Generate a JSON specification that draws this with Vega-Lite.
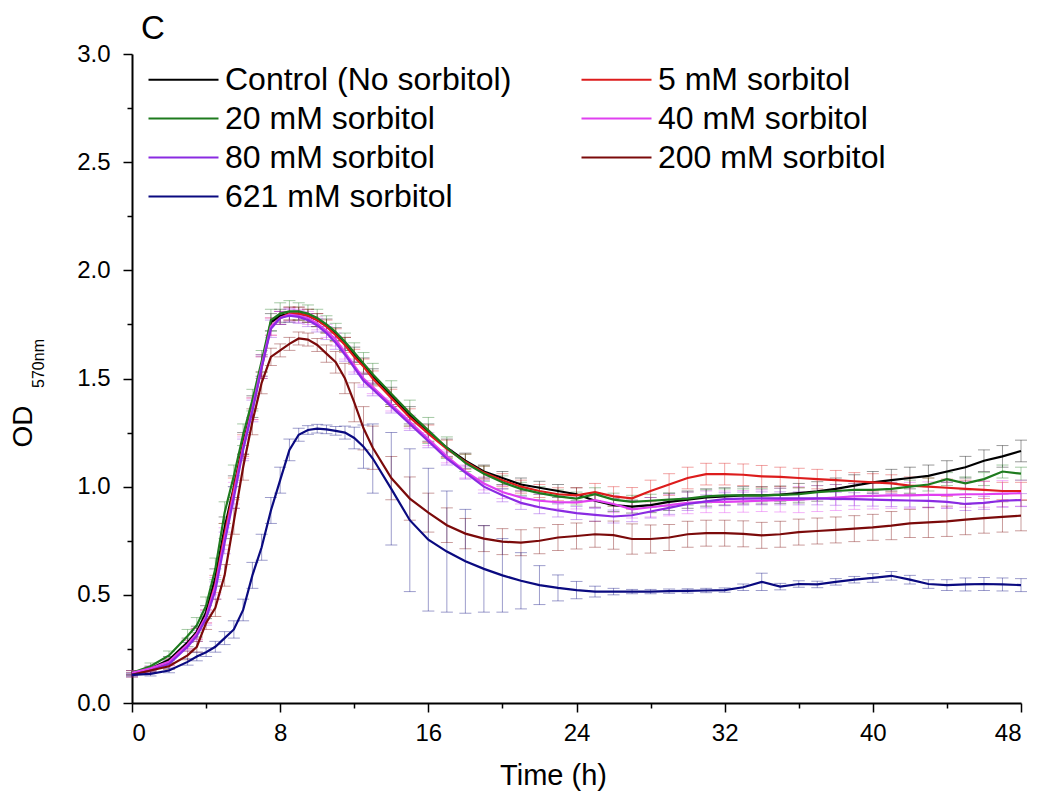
{
"$schema": "https://vega.github.io/schema/vega-lite/v6.json",
"width": 889, "height": 649,
"autosize": "none",
"padding": {"left": 132, "top": 54, "right": 21, "bottom": 90},
"background": "white",
"config": {"view": {"stroke": null}, "font": "Liberation Sans",
 "axis": {"grid": false, "domainColor": "#000", "domainWidth": 2, "tickColor": "#000", "tickWidth": 1.5, "labelColor": "#000", "titleColor": "#000", "labelFont": "Liberation Sans", "titleFont": "Liberation Sans", "labelFontSize": 24, "titleFontSize": 29, "titleFontWeight": "normal"}},
"title": {"text": "C", "anchor": "start", "frame": "group", "fontSize": 33, "fontWeight": "normal", "font": "Liberation Sans", "color": "#000", "dx": 9, "offset": -4},
"data": {"values": [
{"s":"C","t":0,"y":0.14,"e":0.01},{"s":"C","t":1,"y":0.16,"e":0.01},{"s":"C","t":2,"y":0.2,"e":0.015},{"s":"C","t":3,"y":0.28,"e":0.02},{"s":"C","t":3.5,"y":0.33,"e":0.025},{"s":"C","t":4,"y":0.42,"e":0.03},{"s":"C","t":4.5,"y":0.58,"e":0.04},{"s":"C","t":5,"y":0.81,"e":0.05},{"s":"C","t":5.5,"y":1.0,"e":0.05},{"s":"C","t":6,"y":1.2,"e":0.05},{"s":"C","t":6.5,"y":1.37,"e":0.05},{"s":"C","t":7,"y":1.56,"e":0.05},{"s":"C","t":7.5,"y":1.76,"e":0.04},{"s":"C","t":8,"y":1.79,"e":0.03},{"s":"C","t":8.5,"y":1.8,"e":0.03},{"s":"C","t":9,"y":1.8,"e":0.03},{"s":"C","t":9.5,"y":1.79,"e":0.03},{"s":"C","t":10,"y":1.77,"e":0.03},{"s":"C","t":10.5,"y":1.745,"e":0.03},{"s":"C","t":11,"y":1.705,"e":0.03},{"s":"C","t":11.5,"y":1.66,"e":0.03},{"s":"C","t":12,"y":1.61,"e":0.035},{"s":"C","t":12.5,"y":1.56,"e":0.035},{"s":"C","t":13,"y":1.51,"e":0.035},{"s":"C","t":14,"y":1.42,"e":0.04},{"s":"C","t":15,"y":1.33,"e":0.04},{"s":"C","t":16,"y":1.25,"e":0.04},{"s":"C","t":17,"y":1.18,"e":0.04},{"s":"C","t":18,"y":1.12,"e":0.035},{"s":"C","t":19,"y":1.07,"e":0.03},{"s":"C","t":20,"y":1.04,"e":0.03},{"s":"C","t":21,"y":1.01,"e":0.03},{"s":"C","t":22,"y":0.995,"e":0.03},{"s":"C","t":23,"y":0.98,"e":0.03},{"s":"C","t":24,"y":0.965,"e":0.03},{"s":"C","t":25,"y":0.935,"e":0.03},{"s":"C","t":26,"y":0.915,"e":0.03},{"s":"C","t":27,"y":0.908,"e":0.03},{"s":"C","t":28,"y":0.915,"e":0.035},{"s":"C","t":29,"y":0.93,"e":0.04},{"s":"C","t":30,"y":0.94,"e":0.04},{"s":"C","t":31,"y":0.95,"e":0.04},{"s":"C","t":32,"y":0.955,"e":0.04},{"s":"C","t":33,"y":0.96,"e":0.04},{"s":"C","t":34,"y":0.96,"e":0.04},{"s":"C","t":35,"y":0.963,"e":0.04},{"s":"C","t":36,"y":0.97,"e":0.045},{"s":"C","t":37,"y":0.978,"e":0.045},{"s":"C","t":38,"y":0.99,"e":0.05},{"s":"C","t":39,"y":1.005,"e":0.05},{"s":"C","t":40,"y":1.02,"e":0.05},{"s":"C","t":41,"y":1.03,"e":0.05},{"s":"C","t":42,"y":1.04,"e":0.05},{"s":"C","t":43,"y":1.05,"e":0.05},{"s":"C","t":44,"y":1.07,"e":0.05},{"s":"C","t":45,"y":1.09,"e":0.05},{"s":"C","t":46,"y":1.12,"e":0.05},{"s":"C","t":47,"y":1.14,"e":0.05},{"s":"C","t":48,"y":1.165,"e":0.05},
{"s":"5","t":0,"y":0.14,"e":0.01},{"s":"5","t":1,"y":0.155,"e":0.01},{"s":"5","t":2,"y":0.19,"e":0.015},{"s":"5","t":3,"y":0.27,"e":0.02},{"s":"5","t":3.5,"y":0.32,"e":0.025},{"s":"5","t":4,"y":0.4,"e":0.03},{"s":"5","t":4.5,"y":0.55,"e":0.04},{"s":"5","t":5,"y":0.78,"e":0.05},{"s":"5","t":5.5,"y":0.99,"e":0.05},{"s":"5","t":6,"y":1.19,"e":0.05},{"s":"5","t":6.5,"y":1.36,"e":0.05},{"s":"5","t":7,"y":1.55,"e":0.05},{"s":"5","t":7.5,"y":1.74,"e":0.04},{"s":"5","t":8,"y":1.78,"e":0.03},{"s":"5","t":8.5,"y":1.8,"e":0.03},{"s":"5","t":9,"y":1.8,"e":0.03},{"s":"5","t":9.5,"y":1.79,"e":0.03},{"s":"5","t":10,"y":1.77,"e":0.03},{"s":"5","t":10.5,"y":1.74,"e":0.03},{"s":"5","t":11,"y":1.7,"e":0.03},{"s":"5","t":11.5,"y":1.655,"e":0.035},{"s":"5","t":12,"y":1.6,"e":0.035},{"s":"5","t":12.5,"y":1.555,"e":0.035},{"s":"5","t":13,"y":1.5,"e":0.035},{"s":"5","t":14,"y":1.41,"e":0.04},{"s":"5","t":15,"y":1.32,"e":0.04},{"s":"5","t":16,"y":1.245,"e":0.04},{"s":"5","t":17,"y":1.175,"e":0.04},{"s":"5","t":18,"y":1.115,"e":0.035},{"s":"5","t":19,"y":1.065,"e":0.03},{"s":"5","t":20,"y":1.03,"e":0.03},{"s":"5","t":21,"y":1.0,"e":0.03},{"s":"5","t":22,"y":0.98,"e":0.03},{"s":"5","t":23,"y":0.965,"e":0.03},{"s":"5","t":24,"y":0.96,"e":0.035},{"s":"5","t":25,"y":0.975,"e":0.04},{"s":"5","t":26,"y":0.955,"e":0.045},{"s":"5","t":27,"y":0.946,"e":0.05},{"s":"5","t":28,"y":0.98,"e":0.05},{"s":"5","t":29,"y":1.01,"e":0.05},{"s":"5","t":30,"y":1.04,"e":0.05},{"s":"5","t":31,"y":1.058,"e":0.05},{"s":"5","t":32,"y":1.058,"e":0.05},{"s":"5","t":33,"y":1.055,"e":0.05},{"s":"5","t":34,"y":1.048,"e":0.05},{"s":"5","t":35,"y":1.045,"e":0.045},{"s":"5","t":36,"y":1.04,"e":0.045},{"s":"5","t":37,"y":1.035,"e":0.045},{"s":"5","t":38,"y":1.03,"e":0.045},{"s":"5","t":39,"y":1.025,"e":0.04},{"s":"5","t":40,"y":1.02,"e":0.04},{"s":"5","t":41,"y":1.015,"e":0.04},{"s":"5","t":42,"y":1.005,"e":0.04},{"s":"5","t":43,"y":1.0,"e":0.04},{"s":"5","t":44,"y":0.995,"e":0.04},{"s":"5","t":45,"y":0.99,"e":0.04},{"s":"5","t":46,"y":0.985,"e":0.04},{"s":"5","t":47,"y":0.98,"e":0.04},{"s":"5","t":48,"y":0.98,"e":0.04},
{"s":"20","t":0,"y":0.14,"e":0.01},{"s":"20","t":1,"y":0.17,"e":0.015},{"s":"20","t":2,"y":0.22,"e":0.02},{"s":"20","t":3,"y":0.31,"e":0.03},{"s":"20","t":3.5,"y":0.36,"e":0.035},{"s":"20","t":4,"y":0.45,"e":0.04},{"s":"20","t":4.5,"y":0.62,"e":0.05},{"s":"20","t":5,"y":0.88,"e":0.05},{"s":"20","t":5.5,"y":1.05,"e":0.05},{"s":"20","t":6,"y":1.24,"e":0.05},{"s":"20","t":6.5,"y":1.4,"e":0.05},{"s":"20","t":7,"y":1.58,"e":0.05},{"s":"20","t":7.5,"y":1.77,"e":0.05},{"s":"20","t":8,"y":1.8,"e":0.05},{"s":"20","t":8.5,"y":1.81,"e":0.05},{"s":"20","t":9,"y":1.81,"e":0.04},{"s":"20","t":9.5,"y":1.8,"e":0.04},{"s":"20","t":10,"y":1.78,"e":0.04},{"s":"20","t":10.5,"y":1.75,"e":0.04},{"s":"20","t":11,"y":1.715,"e":0.04},{"s":"20","t":11.5,"y":1.67,"e":0.04},{"s":"20","t":12,"y":1.62,"e":0.045},{"s":"20","t":12.5,"y":1.57,"e":0.05},{"s":"20","t":13,"y":1.52,"e":0.05},{"s":"20","t":14,"y":1.43,"e":0.06},{"s":"20","t":15,"y":1.34,"e":0.06},{"s":"20","t":16,"y":1.26,"e":0.06},{"s":"20","t":17,"y":1.18,"e":0.05},{"s":"20","t":18,"y":1.11,"e":0.04},{"s":"20","t":19,"y":1.06,"e":0.035},{"s":"20","t":20,"y":1.02,"e":0.03},{"s":"20","t":21,"y":0.99,"e":0.03},{"s":"20","t":22,"y":0.97,"e":0.03},{"s":"20","t":23,"y":0.955,"e":0.03},{"s":"20","t":24,"y":0.945,"e":0.03},{"s":"20","t":25,"y":0.965,"e":0.03},{"s":"20","t":26,"y":0.94,"e":0.03},{"s":"20","t":27,"y":0.93,"e":0.03},{"s":"20","t":28,"y":0.935,"e":0.03},{"s":"20","t":29,"y":0.94,"e":0.03},{"s":"20","t":30,"y":0.945,"e":0.03},{"s":"20","t":31,"y":0.955,"e":0.03},{"s":"20","t":32,"y":0.96,"e":0.03},{"s":"20","t":33,"y":0.96,"e":0.03},{"s":"20","t":34,"y":0.96,"e":0.03},{"s":"20","t":35,"y":0.962,"e":0.03},{"s":"20","t":36,"y":0.965,"e":0.03},{"s":"20","t":37,"y":0.975,"e":0.03},{"s":"20","t":38,"y":0.98,"e":0.03},{"s":"20","t":39,"y":0.985,"e":0.03},{"s":"20","t":40,"y":0.985,"e":0.03},{"s":"20","t":41,"y":0.99,"e":0.03},{"s":"20","t":42,"y":1.0,"e":0.03},{"s":"20","t":43,"y":1.01,"e":0.03},{"s":"20","t":44,"y":1.035,"e":0.03},{"s":"20","t":45,"y":1.015,"e":0.03},{"s":"20","t":46,"y":1.035,"e":0.03},{"s":"20","t":47,"y":1.07,"e":0.03},{"s":"20","t":48,"y":1.06,"e":0.03},
{"s":"40","t":0,"y":0.14,"e":0.01},{"s":"40","t":1,"y":0.16,"e":0.01},{"s":"40","t":2,"y":0.19,"e":0.015},{"s":"40","t":3,"y":0.27,"e":0.02},{"s":"40","t":3.5,"y":0.32,"e":0.025},{"s":"40","t":4,"y":0.4,"e":0.03},{"s":"40","t":4.5,"y":0.54,"e":0.04},{"s":"40","t":5,"y":0.76,"e":0.05},{"s":"40","t":5.5,"y":0.97,"e":0.05},{"s":"40","t":6,"y":1.18,"e":0.05},{"s":"40","t":6.5,"y":1.36,"e":0.05},{"s":"40","t":7,"y":1.56,"e":0.05},{"s":"40","t":7.5,"y":1.74,"e":0.04},{"s":"40","t":8,"y":1.78,"e":0.03},{"s":"40","t":8.5,"y":1.795,"e":0.03},{"s":"40","t":9,"y":1.79,"e":0.03},{"s":"40","t":9.5,"y":1.78,"e":0.03},{"s":"40","t":10,"y":1.755,"e":0.03},{"s":"40","t":10.5,"y":1.72,"e":0.03},{"s":"40","t":11,"y":1.68,"e":0.03},{"s":"40","t":11.5,"y":1.62,"e":0.03},{"s":"40","t":12,"y":1.56,"e":0.03},{"s":"40","t":12.5,"y":1.5,"e":0.03},{"s":"40","t":13,"y":1.46,"e":0.03},{"s":"40","t":14,"y":1.38,"e":0.03},{"s":"40","t":15,"y":1.3,"e":0.03},{"s":"40","t":16,"y":1.22,"e":0.03},{"s":"40","t":17,"y":1.14,"e":0.03},{"s":"40","t":18,"y":1.07,"e":0.03},{"s":"40","t":19,"y":1.015,"e":0.03},{"s":"40","t":20,"y":0.975,"e":0.03},{"s":"40","t":21,"y":0.95,"e":0.03},{"s":"40","t":22,"y":0.935,"e":0.03},{"s":"40","t":23,"y":0.928,"e":0.03},{"s":"40","t":24,"y":0.927,"e":0.03},{"s":"40","t":25,"y":0.938,"e":0.035},{"s":"40","t":26,"y":0.92,"e":0.04},{"s":"40","t":27,"y":0.895,"e":0.04},{"s":"40","t":28,"y":0.905,"e":0.045},{"s":"40","t":29,"y":0.915,"e":0.05},{"s":"40","t":30,"y":0.925,"e":0.05},{"s":"40","t":31,"y":0.93,"e":0.05},{"s":"40","t":32,"y":0.93,"e":0.05},{"s":"40","t":33,"y":0.932,"e":0.05},{"s":"40","t":34,"y":0.935,"e":0.05},{"s":"40","t":35,"y":0.938,"e":0.055},{"s":"40","t":36,"y":0.94,"e":0.06},{"s":"40","t":37,"y":0.945,"e":0.06},{"s":"40","t":38,"y":0.95,"e":0.06},{"s":"40","t":39,"y":0.955,"e":0.06},{"s":"40","t":40,"y":0.957,"e":0.06},{"s":"40","t":41,"y":0.96,"e":0.06},{"s":"40","t":42,"y":0.96,"e":0.06},{"s":"40","t":43,"y":0.962,"e":0.06},{"s":"40","t":44,"y":0.962,"e":0.06},{"s":"40","t":45,"y":0.965,"e":0.06},{"s":"40","t":46,"y":0.965,"e":0.06},{"s":"40","t":47,"y":0.968,"e":0.06},{"s":"40","t":48,"y":0.97,"e":0.06},
{"s":"80","t":0,"y":0.13,"e":0.01},{"s":"80","t":1,"y":0.15,"e":0.01},{"s":"80","t":2,"y":0.18,"e":0.015},{"s":"80","t":3,"y":0.26,"e":0.02},{"s":"80","t":3.5,"y":0.31,"e":0.025},{"s":"80","t":4,"y":0.39,"e":0.03},{"s":"80","t":4.5,"y":0.52,"e":0.04},{"s":"80","t":5,"y":0.74,"e":0.05},{"s":"80","t":5.5,"y":0.95,"e":0.05},{"s":"80","t":6,"y":1.17,"e":0.05},{"s":"80","t":6.5,"y":1.35,"e":0.05},{"s":"80","t":7,"y":1.55,"e":0.05},{"s":"80","t":7.5,"y":1.73,"e":0.04},{"s":"80","t":8,"y":1.78,"e":0.03},{"s":"80","t":8.5,"y":1.79,"e":0.03},{"s":"80","t":9,"y":1.785,"e":0.03},{"s":"80","t":9.5,"y":1.77,"e":0.03},{"s":"80","t":10,"y":1.745,"e":0.03},{"s":"80","t":10.5,"y":1.71,"e":0.03},{"s":"80","t":11,"y":1.665,"e":0.03},{"s":"80","t":11.5,"y":1.61,"e":0.03},{"s":"80","t":12,"y":1.55,"e":0.03},{"s":"80","t":12.5,"y":1.49,"e":0.03},{"s":"80","t":13,"y":1.45,"e":0.03},{"s":"80","t":14,"y":1.37,"e":0.03},{"s":"80","t":15,"y":1.29,"e":0.03},{"s":"80","t":16,"y":1.21,"e":0.03},{"s":"80","t":17,"y":1.13,"e":0.03},{"s":"80","t":18,"y":1.065,"e":0.03},{"s":"80","t":19,"y":1.0,"e":0.03},{"s":"80","t":20,"y":0.96,"e":0.03},{"s":"80","t":21,"y":0.925,"e":0.03},{"s":"80","t":22,"y":0.905,"e":0.03},{"s":"80","t":23,"y":0.89,"e":0.03},{"s":"80","t":24,"y":0.878,"e":0.03},{"s":"80","t":25,"y":0.87,"e":0.03},{"s":"80","t":26,"y":0.862,"e":0.03},{"s":"80","t":27,"y":0.868,"e":0.03},{"s":"80","t":28,"y":0.885,"e":0.03},{"s":"80","t":29,"y":0.902,"e":0.03},{"s":"80","t":30,"y":0.92,"e":0.03},{"s":"80","t":31,"y":0.932,"e":0.03},{"s":"80","t":32,"y":0.942,"e":0.03},{"s":"80","t":33,"y":0.945,"e":0.03},{"s":"80","t":34,"y":0.946,"e":0.03},{"s":"80","t":35,"y":0.946,"e":0.03},{"s":"80","t":36,"y":0.946,"e":0.03},{"s":"80","t":37,"y":0.946,"e":0.03},{"s":"80","t":38,"y":0.944,"e":0.03},{"s":"80","t":39,"y":0.942,"e":0.03},{"s":"80","t":40,"y":0.94,"e":0.03},{"s":"80","t":41,"y":0.938,"e":0.03},{"s":"80","t":42,"y":0.936,"e":0.03},{"s":"80","t":43,"y":0.934,"e":0.03},{"s":"80","t":44,"y":0.93,"e":0.03},{"s":"80","t":45,"y":0.92,"e":0.03},{"s":"80","t":46,"y":0.925,"e":0.03},{"s":"80","t":47,"y":0.935,"e":0.03},{"s":"80","t":48,"y":0.938,"e":0.03},
{"s":"200","t":0,"y":0.13,"e":0.01},{"s":"200","t":1,"y":0.15,"e":0.01},{"s":"200","t":2,"y":0.17,"e":0.015},{"s":"200","t":3,"y":0.22,"e":0.02},{"s":"200","t":3.5,"y":0.26,"e":0.025},{"s":"200","t":4,"y":0.37,"e":0.03},{"s":"200","t":4.5,"y":0.44,"e":0.04},{"s":"200","t":5,"y":0.59,"e":0.05},{"s":"200","t":5.5,"y":0.84,"e":0.06},{"s":"200","t":6,"y":1.09,"e":0.06},{"s":"200","t":6.5,"y":1.3,"e":0.06},{"s":"200","t":7,"y":1.48,"e":0.05},{"s":"200","t":7.5,"y":1.6,"e":0.04},{"s":"200","t":8,"y":1.63,"e":0.03},{"s":"200","t":8.5,"y":1.66,"e":0.03},{"s":"200","t":9,"y":1.685,"e":0.03},{"s":"200","t":9.5,"y":1.68,"e":0.03},{"s":"200","t":10,"y":1.655,"e":0.03},{"s":"200","t":10.5,"y":1.615,"e":0.04},{"s":"200","t":11,"y":1.575,"e":0.05},{"s":"200","t":11.5,"y":1.5,"e":0.07},{"s":"200","t":12,"y":1.39,"e":0.09},{"s":"200","t":12.5,"y":1.27,"e":0.1},{"s":"200","t":13,"y":1.18,"e":0.1},{"s":"200","t":14,"y":1.04,"e":0.1},{"s":"200","t":15,"y":0.945,"e":0.1},{"s":"200","t":16,"y":0.88,"e":0.09},{"s":"200","t":17,"y":0.822,"e":0.08},{"s":"200","t":18,"y":0.783,"e":0.07},{"s":"200","t":19,"y":0.76,"e":0.06},{"s":"200","t":20,"y":0.746,"e":0.06},{"s":"200","t":21,"y":0.741,"e":0.06},{"s":"200","t":22,"y":0.75,"e":0.06},{"s":"200","t":23,"y":0.765,"e":0.06},{"s":"200","t":24,"y":0.772,"e":0.06},{"s":"200","t":25,"y":0.78,"e":0.06},{"s":"200","t":26,"y":0.776,"e":0.065},{"s":"200","t":27,"y":0.758,"e":0.07},{"s":"200","t":28,"y":0.758,"e":0.065},{"s":"200","t":29,"y":0.765,"e":0.06},{"s":"200","t":30,"y":0.78,"e":0.06},{"s":"200","t":31,"y":0.785,"e":0.06},{"s":"200","t":32,"y":0.785,"e":0.06},{"s":"200","t":33,"y":0.782,"e":0.06},{"s":"200","t":34,"y":0.775,"e":0.06},{"s":"200","t":35,"y":0.78,"e":0.06},{"s":"200","t":36,"y":0.79,"e":0.06},{"s":"200","t":37,"y":0.795,"e":0.06},{"s":"200","t":38,"y":0.8,"e":0.06},{"s":"200","t":39,"y":0.806,"e":0.06},{"s":"200","t":40,"y":0.812,"e":0.06},{"s":"200","t":41,"y":0.82,"e":0.065},{"s":"200","t":42,"y":0.83,"e":0.065},{"s":"200","t":43,"y":0.835,"e":0.07},{"s":"200","t":44,"y":0.84,"e":0.07},{"s":"200","t":45,"y":0.848,"e":0.07},{"s":"200","t":46,"y":0.855,"e":0.07},{"s":"200","t":47,"y":0.86,"e":0.07},{"s":"200","t":48,"y":0.866,"e":0.07},
{"s":"621","t":0,"y":0.13,"e":0.005},{"s":"621","t":1,"y":0.135,"e":0.01},{"s":"621","t":2,"y":0.15,"e":0.01},{"s":"621","t":3,"y":0.19,"e":0.015},{"s":"621","t":3.5,"y":0.215,"e":0.02},{"s":"621","t":4,"y":0.235,"e":0.02},{"s":"621","t":4.5,"y":0.26,"e":0.025},{"s":"621","t":5,"y":0.3,"e":0.03},{"s":"621","t":5.5,"y":0.34,"e":0.04},{"s":"621","t":6,"y":0.43,"e":0.05},{"s":"621","t":6.5,"y":0.59,"e":0.06},{"s":"621","t":7,"y":0.72,"e":0.06},{"s":"621","t":7.5,"y":0.89,"e":0.06},{"s":"621","t":8,"y":1.03,"e":0.06},{"s":"621","t":8.5,"y":1.17,"e":0.05},{"s":"621","t":9,"y":1.24,"e":0.03},{"s":"621","t":9.5,"y":1.262,"e":0.02},{"s":"621","t":10,"y":1.268,"e":0.02},{"s":"621","t":10.5,"y":1.265,"e":0.02},{"s":"621","t":11,"y":1.258,"e":0.02},{"s":"621","t":11.5,"y":1.25,"e":0.03},{"s":"621","t":12,"y":1.225,"e":0.05},{"s":"621","t":12.5,"y":1.185,"e":0.1},{"s":"621","t":13,"y":1.13,"e":0.16},{"s":"621","t":14,"y":0.99,"e":0.26},{"s":"621","t":15,"y":0.845,"e":0.33},{"s":"621","t":16,"y":0.755,"e":0.33},{"s":"621","t":17,"y":0.7,"e":0.28},{"s":"621","t":18,"y":0.655,"e":0.24},{"s":"621","t":19,"y":0.62,"e":0.2},{"s":"621","t":20,"y":0.59,"e":0.17},{"s":"621","t":21,"y":0.565,"e":0.13},{"s":"621","t":22,"y":0.545,"e":0.09},{"s":"621","t":23,"y":0.532,"e":0.06},{"s":"621","t":24,"y":0.522,"e":0.04},{"s":"621","t":25,"y":0.515,"e":0.025},{"s":"621","t":26,"y":0.515,"e":0.015},{"s":"621","t":27,"y":0.515,"e":0.01},{"s":"621","t":28,"y":0.515,"e":0.01},{"s":"621","t":29,"y":0.517,"e":0.01},{"s":"621","t":30,"y":0.518,"e":0.01},{"s":"621","t":31,"y":0.52,"e":0.01},{"s":"621","t":32,"y":0.522,"e":0.01},{"s":"621","t":33,"y":0.535,"e":0.015},{"s":"621","t":34,"y":0.56,"e":0.04},{"s":"621","t":35,"y":0.538,"e":0.015},{"s":"621","t":36,"y":0.55,"e":0.015},{"s":"621","t":37,"y":0.548,"e":0.015},{"s":"621","t":38,"y":0.56,"e":0.015},{"s":"621","t":39,"y":0.57,"e":0.015},{"s":"621","t":40,"y":0.578,"e":0.02},{"s":"621","t":41,"y":0.588,"e":0.02},{"s":"621","t":42,"y":0.57,"e":0.02},{"s":"621","t":43,"y":0.55,"e":0.02},{"s":"621","t":44,"y":0.545,"e":0.025},{"s":"621","t":45,"y":0.548,"e":0.03},{"s":"621","t":46,"y":0.55,"e":0.03},{"s":"621","t":47,"y":0.548,"e":0.03},{"s":"621","t":48,"y":0.545,"e":0.03}
]},
"layer": [
 {"mark": {"type": "errorbar", "ticks": {"size": 12}, "opacity": 0.4, "thickness": 1},
  "encoding": {
   "x": {"field": "t", "type": "quantitative", "scale": {"domain": [0, 48], "nice": false}},
   "y": {"field": "y", "type": "quantitative", "scale": {"domain": [0, 3], "nice": false},
     "axis": {"orient": "left", "title": "570nm", "titleFontSize": 16, "labels": false, "ticks": false, "domain": false, "titleAngle": -90, "titleX": -94, "titleY": 309, "titleAlign": "center", "titleBaseline": "middle"}},
   "yError": {"field": "e"},
   "color": {"field": "s", "type": "nominal"}
  }},
 {"mark": {"type": "line", "strokeWidth": 2.2},
  "encoding": {
   "x": {"field": "t", "type": "quantitative", "scale": {"domain": [0, 48], "nice": false},
     "axis": {"values": [0,4,8,12,16,20,24,28,32,36,40,44,48], "format": "d", "labelExpr": "datum.value % 8 === 0 ? datum.label : ''", "tickSize": {"condition": {"test": "datum.value % 8 === 0", "value": 9}, "value": 5}, "title": "Time (h)", "labelPadding": 9, "titlePadding": 16, "titleX": 421, "titleAlign": "center"}},
   "y": {"field": "y", "type": "quantitative", "scale": {"domain": [0, 3], "nice": false},
     "axis": {"orient": "left", "values": [0,0.25,0.5,0.75,1,1.25,1.5,1.75,2,2.25,2.5,2.75,3], "format": ".1f", "labelExpr": "round(datum.value*4) % 2 === 0 ? datum.label : ''", "tickSize": {"condition": {"test": "round(datum.value*4) % 2 === 0", "value": 9}, "value": 5}, "labelPadding": 13, "title": "OD", "titleFontSize": 28, "titleAngle": -90, "titleX": -109, "titleY": 372, "titleAlign": "center", "titleBaseline": "middle"}},
   "color": {"field": "s", "type": "nominal",
     "scale": {"domain": ["C","20","80","621","5","40","200"], "range": ["#000000","#1e7b1e","#8a2be2","#0a0a80","#dd1c1c","#e040f0","#7b0a0a"]},
     "legend": {"orient": "none", "legendX": 30, "legendY": 4, "columns": 2, "title": null, "symbolType": "M-1.75,0H1.75", "symbolSize": 1600, "symbolStrokeWidth": 2.2, "symbolOpacity": 1, "symbolFillColor": "transparent", "labelFontSize": 32, "labelLimit": 500, "labelFont": "Liberation Sans", "labelColor": "#000", "rowPadding": 1, "columnPadding": 65, "labelOffset": 20, "labelExpr": "datum.label == 'C' ? 'Control (No sorbitol)' : datum.label + ' mM sorbitol'",
       "encode": {"symbols": {"update": {"opacity": {"value": 1}, "strokeOpacity": {"value": 1}}}}}}
  }}
],
"resolve": {"axis": {"y": "independent"}}
}
